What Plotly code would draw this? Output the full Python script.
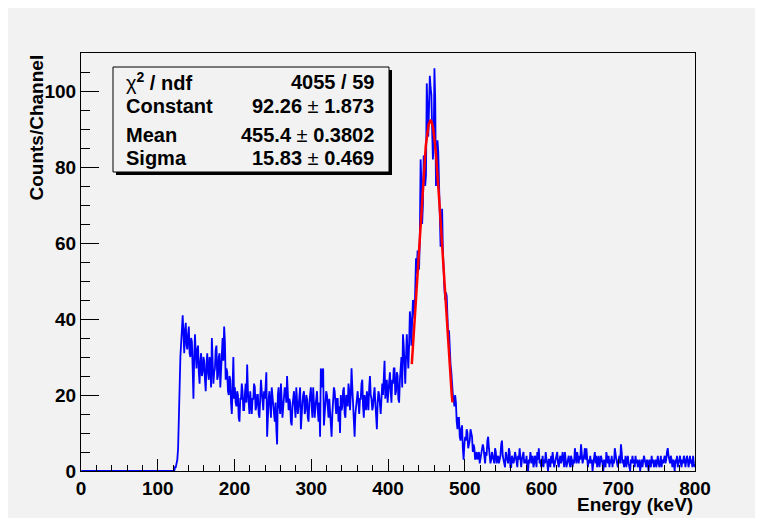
import plotly.graph_objects as go
import numpy as np

# ---------------- data (1 keV bins, 0-800 keV) ----------------
bin_width = 1.0
x_start = 0.0

counts_below_edge = [0] * 122  # 0-121 keV: empty channels

counts_backscatter = [  # 122-199 keV
    1, 1, 2, 3, 6, 12, 22, 30,
    34, 38, 41, 36, 31, 37, 39, 33, 32, 36,
    38, 31, 30, 35, 34, 27, 19, 30, 36, 31,
    27, 32, 33, 26, 23, 29, 31, 25, 26, 30,
    29, 24, 21, 28, 31, 26, 24, 30, 28, 22,
    35, 29, 23, 26, 27, 32, 33, 24, 25, 30,
    31, 22, 27, 33, 35, 29, 38, 34, 24, 27,
    26, 21, 20, 25, 24, 18, 15, 22, 30, 19,
]
counts_plateau = [  # 200-419 keV
    22, 18, 17, 21, 20, 14, 13, 19, 19, 23,
    21, 16, 16, 20, 23, 18, 28, 21, 18, 15,
    21, 17, 15, 19, 19, 23, 22, 16, 17, 20,
    20, 15, 14, 19, 24, 21, 18, 16, 21, 19,
    22, 26, 9, 17, 19, 21, 16, 14, 22, 19,
    18, 15, 13, 18, 11, 7, 20, 22, 17, 15,
    23, 19, 14, 17, 19, 22, 21, 18, 25, 20,
    16, 19, 18, 13, 12, 17, 20, 21, 17, 14,
    22, 19, 15, 17, 19, 22, 11, 16, 18, 20,
    21, 15, 16, 20, 19, 14, 13, 18, 20, 22,
    17, 14, 22, 19, 14, 17, 19, 21, 16, 13,
    18, 9, 27, 22, 26, 27, 12, 16, 18, 21,
    20, 17, 14, 19, 16, 11, 9, 15, 18, 22,
    21, 16, 15, 19, 19, 13, 17, 10, 20, 16,
    17, 21, 22, 15, 14, 20, 19, 17, 23, 21,
    16, 20, 27, 22, 18, 14, 9, 15, 17, 20,
    21, 18, 15, 19, 19, 23, 24, 17, 14, 20,
    18, 16, 21, 19, 16, 22, 25, 20, 19, 16,
    17, 20, 22, 18, 14, 11, 18, 21, 20, 17,
    15, 19, 23, 20, 26, 29, 19, 22, 24, 18,
    20, 23, 26, 21, 18, 24, 23, 27, 27, 20,
    21, 26, 25, 19, 18, 24, 28, 30, 22, 36,
]
counts_peak = [  # 420-499 keV
    33, 28, 23, 30, 36, 31, 27, 33, 42, 39,
    33, 40, 45, 44, 40, 48, 56, 52, 58, 57,
    53, 62, 82, 76, 65, 70, 83, 80, 75, 78,
    102, 95, 88, 96, 104, 101, 99, 90, 82, 86,
    106, 98, 75, 80, 87, 84, 73, 66, 59, 63,
    69, 58, 50, 48, 45, 47, 46, 40, 35, 37,
    31, 28, 26, 22, 20, 19, 17, 20, 18, 13,
    11, 14, 14, 9, 8, 11, 12, 6, 3, 7,
]
counts_tail = [  # 500-799 keV
    9, 8, 11, 10, 6, 7, 8, 11, 10, 9,
    5, 7, 6, 3, 4, 5, 3, 4, 5, 2,
    3, 4, 5, 7, 6, 3, 2, 5, 4, 8,
    9, 6, 4, 2, 3, 5, 4, 3, 2, 6,
    5, 2, 3, 4, 2, 3, 4, 7, 8, 4,
    3, 2, 1, 5, 4, 3, 2, 6, 5, 1,
    1, 4, 3, 2, 3, 5, 4, 2, 1, 4,
    3, 6, 2, 1, 3, 4, 5, 2, 3, 2,
    4, 1, 0, 3, 2, 5, 3, 2, 4, 1,
    2, 4, 3, 1, 5, 3, 6, 2, 3, 1,
    2, 4, 1, 3, 2, 5, 3, 2, 0, 3,
    3, 1, 4, 2, 5, 3, 1, 2, 3, 4,
    5, 2, 1, 3, 4, 2, 3, 5, 2, 1,
    5, 3, 1, 2, 3, 4, 2, 1, 4, 3,
    1, 3, 2, 6, 4, 2, 5, 3, 2, 4,
    3, 7, 5, 2, 3, 4, 6, 3, 6, 2,
    1, 3, 2, 4, 2, 3, 0, 2, 3, 5,
    2, 4, 1, 3, 4, 1, 2, 4, 3, 2,
    0, 3, 2, 1, 5, 3, 2, 4, 1, 3,
    2, 4, 1, 3, 2, 6, 4, 3, 2, 1,
    3, 4, 2, 7, 5, 2, 3, 1, 2, 4,
    1, 3, 4, 2, 1, 0, 3, 2, 4, 2,
    3, 1, 4, 2, 3, 1, 2, 3, 0, 2,
    3, 1, 2, 4, 3, 2, 1, 3, 2, 0,
    3, 2, 1, 4, 2, 3, 1, 2, 3, 1,
    2, 4, 3, 1, 2, 4, 1, 3, 2, 3,
    4, 2, 3, 5, 6, 4, 3, 2, 4, 3,
    1, 3, 2, 0, 3, 2, 4, 1, 2, 3,
    4, 2, 1, 3, 2, 4, 3, 1, 2, 4,
    3, 1, 2, 4, 2, 3, 1, 4, 2, 1,
]
counts = counts_below_edge + counts_backscatter + counts_plateau + counts_peak + counts_tail

# Gaussian fit result (from the stats box)
fit_constant = 92.26
fit_mean = 455.4
fit_sigma = 15.83
fit_range = [431.0, 484.0]

stats_labels = ["χ<b><sup>2</sup> / ndf</b>", "<b>Constant</b>", "<b>Mean</b>", "<b>Sigma</b>"]
stats_values = [
    "<b>4055 / 59</b>",
    "<b>92.26</b> ± <b>1.873</b>",
    "<b>455.4</b> ± <b>0.3802</b>",
    "<b>15.83</b> ± <b>0.469</b>",
]

x_ticks = [0, 100, 200, 300, 400, 500, 600, 700, 800]
y_ticks = [0, 20, 40, 60, 80, 100]

# ---------------- figure ----------------
OX, OY = 8, 8            # page offset of the figure (body margin)
W, H = 755, 510
ML, MR, MT, MB = 73, 68, 45, 47
PW, PH = W - ML - MR, H - MT - MB


def px(page_x):
    return (page_x - OX - ML) / PW


def py(page_y):
    return (H - MB - (page_y - OY)) / PH


FONT = "Liberation Sans, Arial, Helvetica, sans-serif"

fig = go.Figure()
fig.add_trace(go.Scatter(
    x0=x_start + bin_width / 2, dx=bin_width, y=counts,
    mode="lines", line=dict(color="#0000ff", width=1.8), hoverinfo="skip",
))
fx = np.linspace(fit_range[0], fit_range[1], 200)
fy = fit_constant * np.exp(-0.5 * ((fx - fit_mean) / fit_sigma) ** 2)
fig.add_trace(go.Scatter(
    x=fx, y=fy, mode="lines", line=dict(color="#ff0000", width=2.5), hoverinfo="skip",
))

axis_common = dict(
    showgrid=False, zeroline=False, showline=True, linecolor="black", linewidth=1,
    mirror=True, ticks="inside", tickcolor="black", tickwidth=1,
    tickfont=dict(family=FONT, size=19, color="black", weight="bold"),
)

fig.update_layout(
    width=W, height=H,
    margin=dict(l=ML, r=MR, t=MT, b=MB, pad=0),
    paper_bgcolor="#f2f2f2", plot_bgcolor="#f2f2f2",
    showlegend=False,
    xaxis=dict(range=[0, 800], tickvals=x_ticks, ticklen=12,
               minor=dict(ticks="inside", ticklen=6, dtick=20, tickcolor="black", tickwidth=1),
               **axis_common),
    yaxis=dict(range=[0, 110], tickvals=y_ticks, ticklen=18,
               minor=dict(ticks="inside", ticklen=9, dtick=5, tickcolor="black", tickwidth=1),
               **axis_common),
)

shapes = [
    # stats box shadow and box
    dict(type="rect", xref="paper", yref="paper", x0=px(116), x1=px(392), y0=py(175), y1=py(70),
         fillcolor="black", line=dict(width=0), layer="above"),
    dict(type="rect", xref="paper", yref="paper", x0=px(113), x1=px(389), y0=py(172), y1=py(67),
         fillcolor="#f2f2f2", line=dict(color="black", width=1), layer="above"),
]
fig.update_layout(shapes=shapes)

annotations = []
row_y = [81, 105.5, 134, 156.5]
for lab, val, yc in zip(stats_labels, stats_values, row_y):
    annotations.append(dict(xref="paper", yref="paper", x=px(124), y=py(yc + 1), text=lab,
                            showarrow=False, xanchor="left", yanchor="middle",
                            font=dict(family=FONT, size=20, color="black")))
    annotations.append(dict(xref="paper", yref="paper", x=px(376), y=py(yc + 1), text=val,
                            showarrow=False, xanchor="right", yanchor="middle",
                            font=dict(family=FONT, size=20, color="black")))

annotations.append(dict(xref="paper", yref="paper", x=1.0, y=py(504.5),
                        text="<b>Energy (keV)</b>", showarrow=False,
                        xanchor="right", yanchor="middle",
                        font=dict(family=FONT, size=19, color="black")))
annotations.append(dict(xref="paper", yref="paper", x=px(35.5), y=1.0,
                        text="<b>Counts/Channel</b>", showarrow=False, textangle=-90,
                        xanchor="center", yanchor="top",
                        font=dict(family=FONT, size=19, color="black")))
fig.update_layout(annotations=annotations)

fig.write_html("out.html")
